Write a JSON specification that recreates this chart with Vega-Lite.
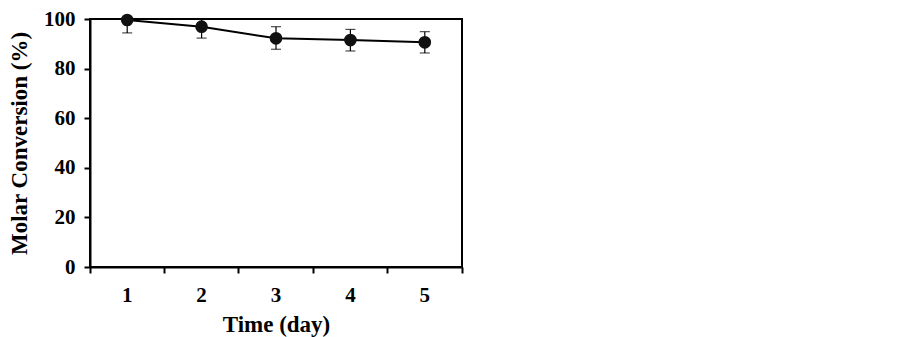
{
  "$schema": "https://vega.github.io/schema/vega-lite/v6.json",
  "autosize": "none",
  "width": 372,
  "height": 248,
  "padding": {"left": 90, "top": 19, "right": 441, "bottom": 70},
  "background": "white",
  "config": {
    "view": {"stroke": "black", "strokeWidth": 2},
    "font": "Liberation Serif",
    "axis": {
      "domainColor": "black", "domainWidth": 2, "tickColor": "black", "tickWidth": 2,
      "labelFont": "Liberation Serif", "labelFontWeight": "bold", "labelFontSize": 21, "labelColor": "black",
      "titleFont": "Liberation Serif", "titleFontWeight": "bold", "titleFontSize": 23, "titleColor": "black",
      "grid": false
    }
  },
  "data": {"values": [
    {"day": "1", "conv": 99.6, "lo": 94.4, "hi": 104.8},
    {"day": "2", "conv": 96.9, "lo": 92.3, "hi": 101.5},
    {"day": "3", "conv": 92.2, "lo": 87.8, "hi": 96.9},
    {"day": "4", "conv": 91.5, "lo": 87.1, "hi": 95.8},
    {"day": "5", "conv": 90.6, "lo": 86.3, "hi": 94.9}
  ]},
  "encoding": {
    "x": {"field": "day", "type": "ordinal", "scale": {"paddingInner": 0, "paddingOuter": 0},
      "axis": {"title": "Time (day)", "labelAngle": 0, "bandPosition": 1, "tickExtra": true, "tickSize": 6, "labelPadding": 11, "titlePadding": 8}}
  },
  "layer": [
    {"mark": {"type": "rule", "color": "black", "strokeWidth": 1.2, "clip": true},
     "encoding": {"y": {"field": "lo", "type": "quantitative"}, "y2": {"field": "hi"}}},
    {"mark": {"type": "tick", "color": "black", "thickness": 1.2, "size": 10, "clip": true},
     "encoding": {"y": {"field": "lo", "type": "quantitative"}}},
    {"mark": {"type": "tick", "color": "black", "thickness": 1.2, "size": 10, "clip": true},
     "encoding": {"y": {"field": "hi", "type": "quantitative"}}},
    {"mark": {"type": "line", "color": "black", "strokeWidth": 2},
     "encoding": {"y": {"field": "conv", "type": "quantitative"}}},
    {"mark": {"type": "point", "filled": true, "color": "#111111", "opacity": 1, "size": 160},
     "encoding": {"y": {"field": "conv", "type": "quantitative",
       "scale": {"domain": [0, 100], "nice": false},
       "axis": {"title": "Molar Conversion (%)", "values": [0, 20, 40, 60, 80, 100], "tickSize": 6, "labelPadding": 9, "titlePadding": 12}}}}
  ]
}
